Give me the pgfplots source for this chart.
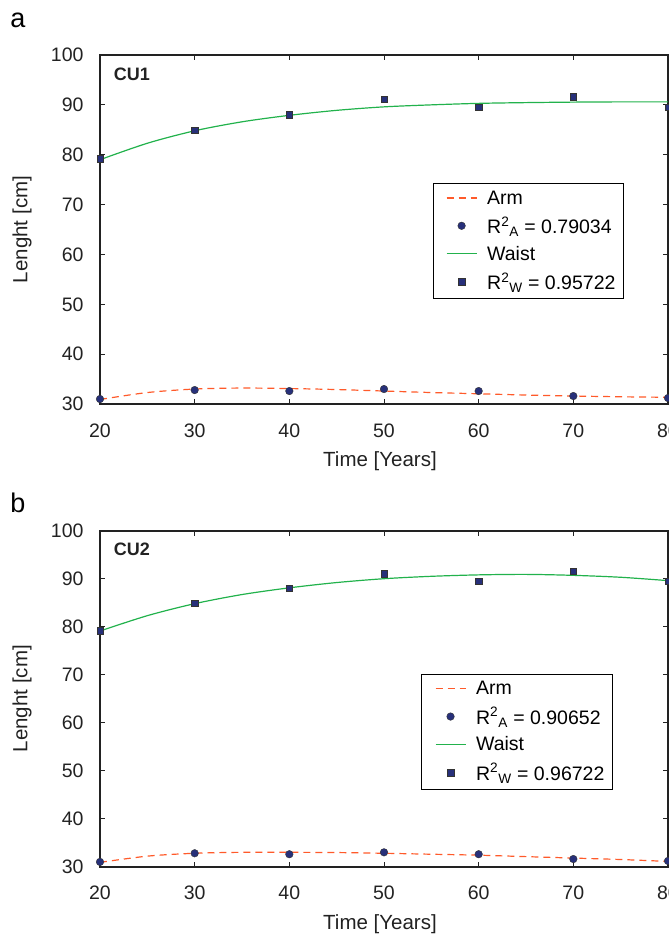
\documentclass[border=0pt]{standalone}
\usepackage{pgfplots}
\pgfplotsset{compat=1.18}
\usepackage{fontspec}
\setmainfont{Liberation Sans}
\definecolor{armc}{HTML}{FF5A2A}
\definecolor{waistc}{HTML}{22B24C}
\definecolor{markc}{HTML}{27307A}
\definecolor{axc}{HTML}{222222}
\pgfplotsset{
  panel/.style={
    scale only axis, width=568pt,
    xmin=20, xmax=80, ymin=30, ymax=100,
    xtick={20,30,...,80}, ytick={30,40,...,100},
    tick align=inside, xtick pos=both, ytick pos=both,
    major tick length=5pt,
    axis line style={axc, line width=1.6pt},
    tick style={axc, line width=1pt},
    /pgf/number format/assume math mode=true,
    tick label style={font=\fontsize{19.5}{22}\selectfont, text=axc},
    xticklabel style={yshift=-16pt},
    yticklabel style={xshift=-13pt},
    label style={font=\fontsize{20.5}{24}\selectfont, text=axc},
    xlabel={Time [Years]}, ylabel={Lenght [cm]},
    xlabel style={at={(axis description cs:0.5,0)}, anchor=center, yshift=-57pt, xshift=-4pt},
    ylabel style={at={(axis description cs:-0.137,0.5)}, anchor=center, rotate=0},
    clip=false,
    legend cell align=left,
    legend style={font=\fontsize{19.5}{22}\selectfont, draw=black, line width=1pt,
      inner xsep=6pt, inner ysep=5pt, row sep=7pt},
  },
  armline/.style={armc, dashed, dash pattern=on 7pt off 5pt, line width=1.2pt, smooth, no marks,
    legend image code/.code={\path (-7pt,0pt) (38pt,0pt);\draw[##1] (0pt,0pt) -- (30pt,0pt);}},
  waistline/.style={waistc, line width=1.2pt, smooth, no marks,
    legend image code/.code={\path (-7pt,0pt) (38pt,0pt);\draw[##1] (0pt,0pt) -- (30pt,0pt);}},
  armpts/.style={only marks, mark=*, mark size=3.8pt, mark options={fill=markc, draw=black!80, line width=0.4pt},
    legend image code/.code={\path (-7pt,0pt) (38pt,0pt);\draw[mark repeat=2,mark phase=2,##1] plot coordinates {(0pt,0pt)(15pt,0pt)(30pt,0pt)};}},
  waistpts/.style={only marks, mark=square*, mark size=3.3pt, mark options={fill=markc, draw=black!80, line width=0.4pt},
    legend image code/.code={\path (-7pt,0pt) (38pt,0pt);\draw[mark repeat=2,mark phase=2,##1] plot coordinates {(0pt,0pt)(15pt,0pt)(30pt,0pt)};}},
}
\begin{document}
\begin{tikzpicture}
\path[use as bounding box] (0pt,0pt) rectangle (669pt,-934pt);
\node[font=\fontsize{27}{30}\selectfont, anchor=center] at (18pt,-20pt) {a};
\node[font=\fontsize{27}{30}\selectfont, anchor=center] at (18pt,-503pt) {b};
% Panel a
\begin{axis}[panel, height=349pt, at={(100pt,-404pt)}, anchor=south west,
  legend style={at={(0.9225,0.633)}, anchor=north east}]
\addplot[armline] coordinates {(20,30.9) (25,32.3) (30,33.0) (35,33.2) (40,33.1) (45,32.9) (50,32.6) (55,32.3) (60,32.05) (65,31.8) (70,31.6) (75,31.45) (80,31.35)};
\addlegendentry{Arm}
\addplot[armpts] coordinates {(20,31.0) (30,32.8) (40,32.6) (50,33.0) (60,32.6) (70,31.6) (80,31.2)};
\addlegendentry{R\textsuperscript{2}\textsubscript{A} = 0.79034}
\addplot[waistline] coordinates {(20,79.0) (25,82.3) (30,84.8) (35,86.6) (40,87.9) (45,88.9) (50,89.6) (55,90.0) (60,90.3) (65,90.45) (70,90.55) (75,90.6) (80,90.6)};
\addlegendentry{Waist}
\addplot[waistpts] coordinates {(20,79.2) (30,84.9) (40,88.0) (50,91.1) (60,89.5) (70,91.6) (80,89.5)};
\addlegendentry{R\textsuperscript{2}\textsubscript{W} = 0.95722}
\node[font=\bfseries\fontsize{18}{21}\selectfont, anchor=west, text=axc] at (axis description cs:0.018,0.945) {CU1};
\end{axis}
% Panel b
\begin{axis}[panel, height=336pt, at={(100pt,-866.7pt)}, anchor=south west,
  legend style={at={(0.903,0.574)}, anchor=north east}]
\addplot[armline] coordinates {(20,30.9) (25,32.2) (30,32.8) (35,33.0) (40,33.0) (45,32.95) (50,32.8) (55,32.6) (60,32.4) (65,32.1) (70,31.8) (75,31.5) (80,31.1)};
\addlegendentry{Arm}
\addplot[armpts] coordinates {(20,31.0) (30,32.8) (40,32.6) (50,33.0) (60,32.6) (70,31.6) (80,31.2)};
\addlegendentry{R\textsuperscript{2}\textsubscript{A} = 0.90652}
\addplot[waistline] coordinates {(20,79.1) (25,82.3) (30,84.8) (35,86.7) (40,88.1) (45,89.2) (50,90.0) (55,90.5) (60,90.8) (65,90.9) (70,90.7) (75,90.3) (80,89.6)};
\addlegendentry{Waist}
\addplot[waistpts] coordinates {(20,79.2) (30,84.9) (40,88.0) (50,91.1) (60,89.5) (70,91.6) (80,89.5)};
\addlegendentry{R\textsuperscript{2}\textsubscript{W} = 0.96722}
\node[font=\bfseries\fontsize{18}{21}\selectfont, anchor=west, text=axc] at (axis description cs:0.018,0.945) {CU2};
\end{axis}
\end{tikzpicture}
\end{document}
